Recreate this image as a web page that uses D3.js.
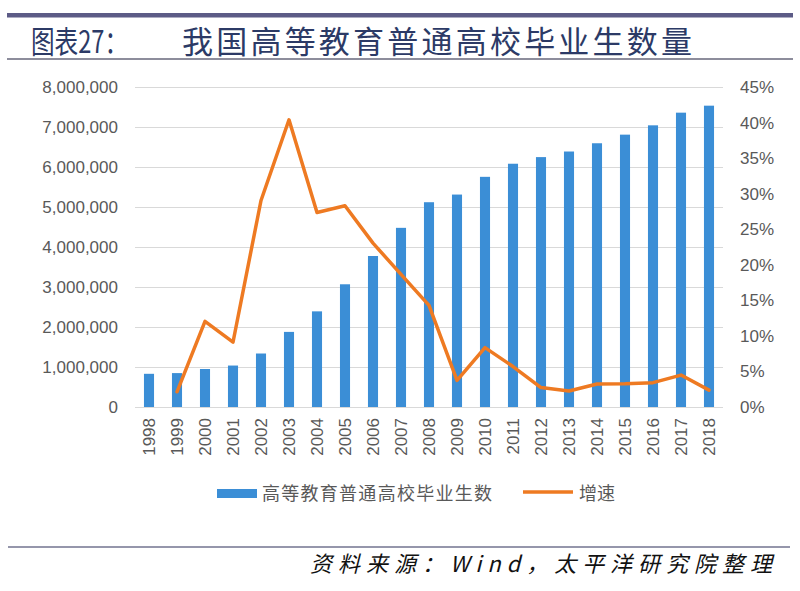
<!DOCTYPE html>
<html><head><meta charset="utf-8">
<script src="https://cdn.jsdelivr.net/npm/d3@7"></script>
<style>body{margin:0;background:#fff}svg{display:block}</style>
</head><body>
<svg id="c" width="800" height="591"></svg>
<script>
const years = ["1998","1999","2000","2001","2002","2003","2004","2005","2006","2007","2008","2009","2010","2011","2012","2013","2014","2015","2016","2017","2018"];
const graduates = [829833,847617,949767,1036323,1337309,1877492,2391152,3067956,3774708,4478907,5119498,5311023,5754245,6081565,6247338,6387210,6593671,6808866,7041800,7358287,7533087];
const growthYears = ["1999","2000","2001","2002","2003","2004","2005","2006","2007","2008","2009","2010","2011","2012","2013","2014","2015","2016","2017","2018"];
const growth = [0.0214,0.1205,0.0911,0.2904,0.4039,0.2736,0.2830,0.2304,0.1866,0.1430,0.0374,0.0835,0.0569,0.0273,0.0224,0.0323,0.0326,0.0342,0.0449,0.0237];
const leftTicks = [0,1000000,2000000,3000000,4000000,5000000,6000000,7000000,8000000];
const rightTicks = [0,0.05,0.10,0.15,0.20,0.25,0.30,0.35,0.40,0.45];
const titleLabel = "图表27：";
const titleText = "我国高等教育普通高校毕业生数量";
const seriesNames = ["高等教育普通高校毕业生数","增速"];
const sourceText = "资料来源：Wind，太平洋研究院整理";

const svg = d3.select("#c");
const numFont = "'Liberation Sans', Arial, sans-serif";
const cjkFont = "'Noto Sans CJK SC', sans-serif";

// header lines
svg.append("rect").attr("x",7).attr("y",13).attr("width",786).attr("height",4.5).attr("fill","#5c5b86");
svg.append("rect").attr("x",7).attr("y",58).attr("width",786).attr("height",2).attr("fill","#8d8d9c");
svg.append("text").attr("x",31).attr("y",53).attr("font-family",cjkFont).attr("font-size",31)
  .attr("fill","#2c3a66").attr("textLength",97).attr("lengthAdjust","spacingAndGlyphs").text(titleLabel);
svg.append("text").attr("x",182).attr("y",53).attr("font-family",cjkFont).attr("font-size",31)
  .attr("fill","#2c3a66").attr("textLength",510).attr("lengthAdjust","spacing").text(titleText);

// scales
const x = d3.scaleBand().domain(years).range([135,723]).paddingInner(0.64).paddingOuter(0.32);
const yL = d3.scaleLinear().domain([0,8000000]).range([407,87]);
const yR = d3.scaleLinear().domain([0,0.45]).range([407,87]);

// gridlines
svg.append("g").selectAll("line").data(leftTicks).join("line")
  .attr("x1",135).attr("x2",723).attr("y1",d=>yL(d)+0.5).attr("y2",d=>yL(d)+0.5)
  .attr("stroke","#d9d9d9").attr("stroke-width",1);

// left axis
const axL = svg.append("g").attr("transform","translate(118,0)")
  .call(d3.axisLeft(yL).tickValues(leftTicks).tickSize(0).tickPadding(0).tickFormat(d3.format(",")));
axL.select(".domain").remove();
axL.selectAll("text").attr("font-family",numFont).attr("font-size",17).attr("fill","#595959");

// right axis
const axR = svg.append("g").attr("transform","translate(740,0)")
  .call(d3.axisRight(yR).tickValues(rightTicks).tickSize(0).tickPadding(0).tickFormat(d3.format(".0%")));
axR.select(".domain").remove();
axR.selectAll("text").attr("font-family",numFont).attr("font-size",17).attr("fill","#595959");

// x axis
const axX = svg.append("g").attr("transform","translate(0,407)")
  .call(d3.axisBottom(x).tickSize(0).tickPadding(0));
axX.select(".domain").remove();
axX.selectAll("text").attr("font-family",numFont).attr("font-size",17).attr("fill","#595959")
  .attr("transform","rotate(-90)").attr("text-anchor","end").attr("dy","0.35em").attr("x",-11).attr("y",0);

// bars
svg.append("g").selectAll("rect").data(years).join("rect")
  .attr("x",(d)=>x(d)).attr("width",x.bandwidth())
  .attr("y",(d,i)=>yL(graduates[i])).attr("height",(d,i)=>yL(0)-yL(graduates[i]))
  .attr("fill","#3b8ed6");

// line
const line = d3.line().x((d,i)=>x(growthYears[i])+x.bandwidth()/2).y(d=>yR(d));
svg.append("path").datum(growth).attr("d",line).attr("fill","none")
  .attr("stroke","#ee7a22").attr("stroke-width",3.5).attr("stroke-linejoin","round").attr("stroke-linecap","round");

// legend
svg.append("rect").attr("x",217).attr("y",489).attr("width",40).attr("height",9).attr("fill","#3b8ed6");
svg.append("text").attr("x",262).attr("y",500).attr("font-family",cjkFont).attr("font-size",18)
  .attr("fill","#595959").attr("textLength",230).attr("lengthAdjust","spacing").text(seriesNames[0]);
svg.append("line").attr("x1",523).attr("x2",573).attr("y1",492).attr("y2",492)
  .attr("stroke","#ee7a22").attr("stroke-width",3.5);
svg.append("text").attr("x",579).attr("y",500).attr("font-family",cjkFont).attr("font-size",18)
  .attr("fill","#595959").text(seriesNames[1]);

// footer
svg.append("rect").attr("x",8).attr("y",546).attr("width",782).attr("height",2).attr("fill","#9596ab");
svg.append("text").attr("x",310).attr("y",572).attr("font-family",cjkFont).attr("font-size",22)
  .attr("font-style","italic").attr("fill","#111").attr("textLength",462).attr("lengthAdjust","spacing").text(sourceText);
</script>
</body></html>
